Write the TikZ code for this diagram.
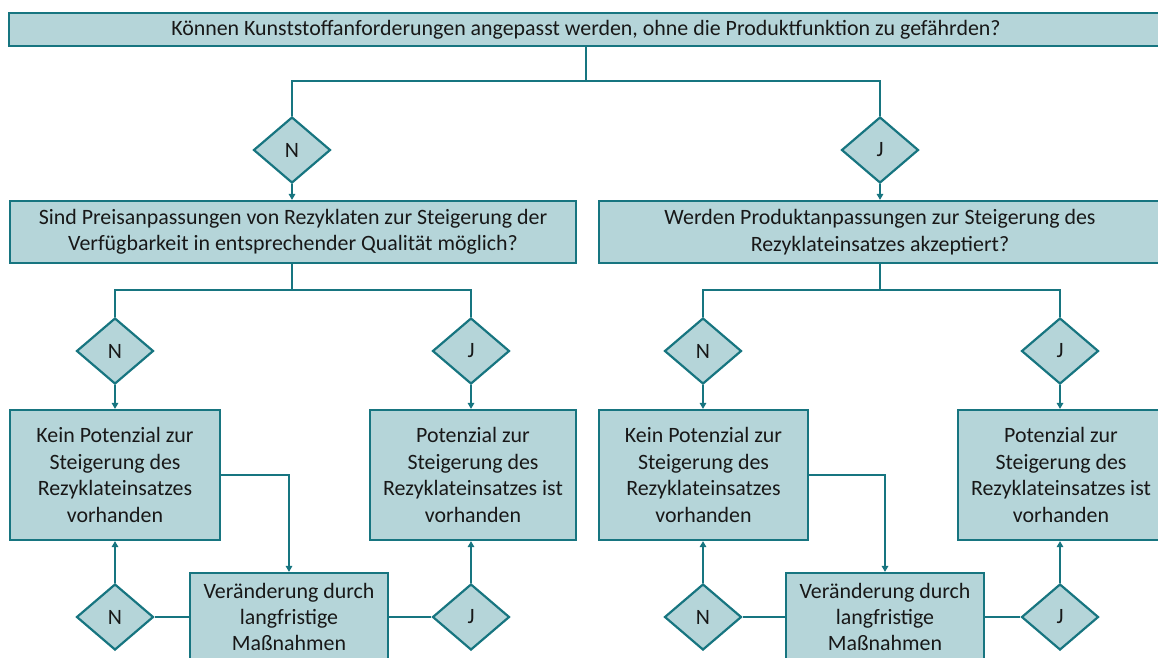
\documentclass[tikz,border=0pt]{standalone}
\usepackage{fontspec}
\setmainfont{Carlito}
\usetikzlibrary{shapes.geometric,arrows.meta}
\definecolor{boxfill}{RGB}{181,213,217}
\definecolor{boxline}{RGB}{23,117,128}
\definecolor{ink}{RGB}{24,24,24}
\begin{document}
\begin{tikzpicture}[x=1pt,y=-1pt,
  every node/.style={font=\fontsize{21.9}{26.4}\selectfont, text=ink},
  box/.style={draw=boxline, fill=boxfill, line width=2.2pt, rectangle, inner sep=0pt, align=center},
  choice/.style={draw=boxline, fill=boxfill, line width=2.2pt, diamond, inner sep=0pt,
                 minimum width=77pt, minimum height=66pt},
  link/.style={draw=boxline, line width=2pt},
  arr/.style={link, -{Triangle[length=6pt,width=6.5pt]}}]
\useasboundingbox (0,0) rectangle (1158,657);
\clip (0,0) rectangle (1158,657);

% root question
\node[box, minimum width=1154pt, minimum height=33pt] (q0) at (586,29.5)
  {Können Kunststoffanforderungen angepasst werden, ohne die Produktfunktion zu gefährden?};

% first decision
\node[choice] (d0n) at (292,150) {N};
\node[choice] (d0j) at (880,150) {J};

% second-level questions
\node[box, minimum width=566pt, minimum height=62pt] (l2a) at (293,232)
  {Sind Preisanpassungen von Rezyklaten zur Steigerung der\\Verfügbarkeit in entsprechender Qualität möglich?};
\node[box, minimum width=562pt, minimum height=62pt] (l2b) at (880,232)
  {Werden Produktanpassungen zur Steigerung des\\Rezyklateinsatzes akzeptiert?};

% second decisions
\node[choice] (d1n) at (115,351) {N};
\node[choice] (d1j) at (471,351) {J};
\node[choice] (d2n) at (703,351) {N};
\node[choice] (d2j) at (1060,351) {J};

% outcomes
\node[box, minimum width=210pt, minimum height=130pt] (k1) at (115,475)
  {Kein Potenzial zur\\Steigerung des\\Rezyklateinsatzes\\vorhanden};
\node[box, minimum width=206pt, minimum height=130pt] (p1) at (473,475)
  {Potenzial zur\\Steigerung des\\Rezyklateinsatzes ist\\vorhanden};
\node[box, minimum width=209pt, minimum height=130pt] (k2) at (703.5,475)
  {Kein Potenzial zur\\Steigerung des\\Rezyklateinsatzes\\vorhanden};
\node[box, minimum width=206pt, minimum height=130pt] (p2) at (1061,475)
  {Potenzial zur\\Steigerung des\\Rezyklateinsatzes ist\\vorhanden};

% long-term measures
\node[box, minimum width=198pt, minimum height=88pt] (v1) at (289,617)
  {Veränderung durch\\langfristige\\Maßnahmen};
\node[box, minimum width=198pt, minimum height=88pt] (v2) at (885,617)
  {Veränderung durch\\langfristige\\Maßnahmen};

\node[choice] (b1n) at (115,617) {N};
\node[choice] (b1j) at (471,617) {J};
\node[choice] (b2n) at (703,617) {N};
\node[choice] (b2j) at (1060,617) {J};

% junction points
\coordinate (j0) at (586,81);
\coordinate (j1) at (292,290);
\coordinate (j2) at (880,290);

% root branches
\draw[link] (j0 |- q0.south) -- (j0);
\draw[link] (d0n.north) -- (d0n.north |- j0) -- (d0j.north |- j0) -- (d0j.north);
\draw[arr] (d0n.south) -- (d0n.south |- l2a.north);
\draw[arr] (d0j.south) -- (d0j.south |- l2b.north);

% left branch
\draw[link] (j1 |- l2a.south) -- (j1);
\draw[link] (d1n.north) -- (d1n.north |- j1) -- (d1j.north |- j1) -- (d1j.north);
\draw[arr] (d1n.south) -- (d1n.south |- k1.north);
\draw[arr] (d1j.south) -- (d1j.south |- p1.north);

% right branch
\draw[link] (j2 |- l2b.south) -- (j2);
\draw[link] (d2n.north) -- (d2n.north |- j2) -- (d2j.north |- j2) -- (d2j.north);
\draw[arr] (d2n.south) -- (d2n.south |- k2.north);
\draw[arr] (d2j.south) -- (d2j.south |- p2.north);

% feedback loops through long-term measures
\draw[arr] (k1.east) -| (v1.north);
\draw[link] (v1.west) -- (b1n.east);
\draw[arr] (b1n.north) -- (b1n.north |- k1.south);
\draw[link] (v1.east) -- (b1j.west);
\draw[arr] (b1j.north) -- (b1j.north |- p1.south);

\draw[arr] (k2.east) -| (v2.north);
\draw[link] (v2.west) -- (b2n.east);
\draw[arr] (b2n.north) -- (b2n.north |- k2.south);
\draw[link] (v2.east) -- (b2j.west);
\draw[arr] (b2j.north) -- (b2j.north |- p2.south);
\end{tikzpicture}
\end{document}
